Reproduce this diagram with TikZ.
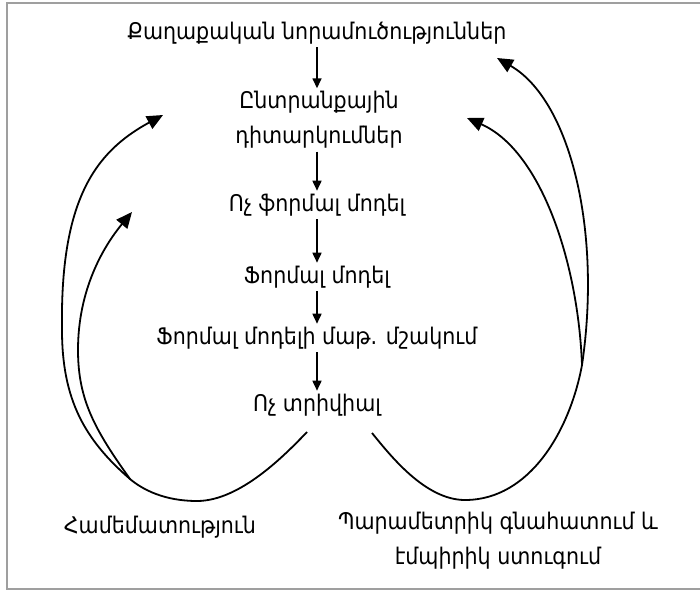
\documentclass[tikz,border=0pt]{standalone}
\usepackage{fontspec}
\setmainfont{DejaVu Sans Condensed}
\usepackage{tikz}
\usetikzlibrary{arrows.meta}

\begin{document}
\begin{tikzpicture}[
        x=1bp, y=-1bp,
        stage/.style={align=center, font=\fontsize{23}{35}\selectfont, inner sep=3bp},
        arrow/.style={-{Triangle[length=10bp, width=9bp]}, line width=1.6bp},
        loop/.style={-{Triangle[length=16bp, width=14bp]}, line width=1.8bp},
        frame/.style={draw=gray!75, line width=2bp}
    ]
        \useasboundingbox (0,0) rectangle (700,591);
        \draw[frame] (700,3) -- (7,3) -- (7,589) -- (700,589);

        \node[stage] (policy) at (317,33) {Քաղաքական նորամուծություններ};
        \node[stage] (observ) at (319,120) {Ընտրանքային\\դիտարկումներ};
        \node[stage] (informal) at (317,205) {Ոչ ֆորմալ մոդել};
        \node[stage] (formal) at (317,277) {Ֆորմալ մոդել};
        \node[stage] (mathdev) at (317,338) {Ֆորմալ մոդելի մաթ. մշակում};
        \node[stage] (nontrivial) at (317,405) {Ոչ տրիվիալ};
        \node[stage] (compare) at (160,527) {Համեմատություն};
        \node[stage] (estimate) at (498,541) {Պարամետրիկ գնահատում և\\էմպիրիկ ստուգում};

        \draw[arrow] (policy.south) -- (policy.south |- observ.north);
        \draw[arrow] (policy.south |- observ.south) -- (informal.north);
        \draw[arrow] (informal.south) -- (formal.north);
        \draw[arrow] (formal.south) -- (mathdev.north);
        \draw[arrow] (mathdev.south) -- (nontrivial.north);

        \coordinate (outL) at (307,432);
        \coordinate (joinL) at (130,479);
        \coordinate (backObsL) at (163,115);
        \coordinate (backInf) at (132,212);
        \coordinate (outR) at (372,433);
        \coordinate (joinR) at (582,365);
        \coordinate (backObsR) at (467,118);
        \coordinate (backPolicy) at (497,58);

        \draw[loop] (outL) .. controls (285,455) and (240,501) .. (197,501)
            .. controls (165,501) and (143,490) .. (joinL)
            .. controls (85,440) and (62,400) .. (62,330)
            .. controls (60,200) and (95,152) .. (backObsL);
        \draw[loop] (joinL) .. controls (95,430) and (78,400) .. (78,350)
            .. controls (78,290) and (103,247) .. (backInf);
        \draw[loop] (outR) .. controls (390,455) and (425,500) .. (465,500)
            .. controls (530,500) and (570,430) .. (joinR)
            .. controls (602,230) and (570,100) .. (backPolicy);
        \draw[loop] (joinR) .. controls (578,260) and (540,150) .. (backObsR);
    \end{tikzpicture}
\end{document}
